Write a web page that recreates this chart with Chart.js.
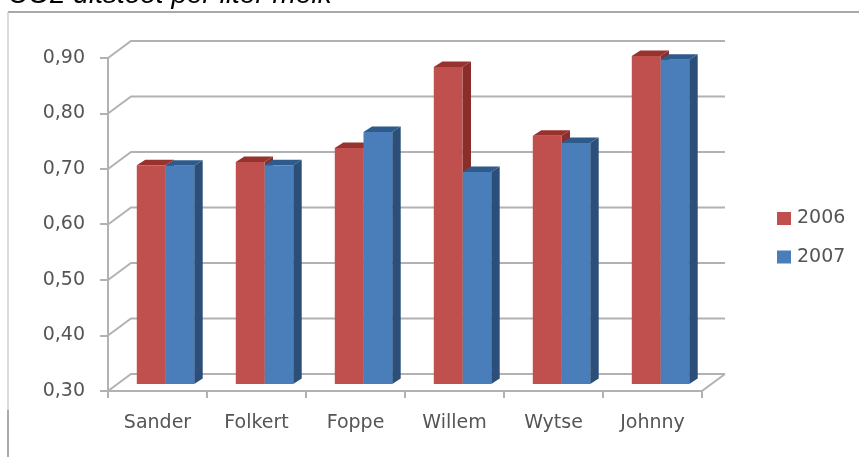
<!DOCTYPE html>
<html>
<head>
<meta charset="utf-8">
<title>CO2 uitstoot per liter melk</title>
<script src="https://cdn.jsdelivr.net/npm/chart.js@4/dist/chart.umd.min.js"></script>
<style>
  html, body { margin: 0; padding: 0; background: #fff; overflow: hidden; }
  #wrap { position: relative; width: 859px; height: 457px; }
</style>
</head>
<body>
<div id="wrap"><canvas id="chart"></canvas></div>
<script>
const heading = 'CO2 uitstoot per liter melk';
const farmers = ['Sander', 'Folkert', 'Foppe', 'Willem', 'Wytse', 'Johnny'];
const values2006 = [0.696, 0.702, 0.727, 0.873, 0.749, 0.893];
const values2007 = [0.695, 0.696, 0.756, 0.684, 0.736, 0.886];
const axisMin = 0.3;
const axisMax = 0.9;
const axisStep = 0.1;

const gridColor = '#b2b2b2';
const textColor = '#555555';
const textFont = '"DejaVu Sans", sans-serif';

// Projection of the pseudo-3D box
const wallShift = { x: 23, y: -17 };   // back wall relative to the axes
const barShift = { x: 8, y: -6 };      // front face of the columns relative to the axes
const barDepth = { x: 8.5, y: -5.5 };  // column depth

const shades = {
  2006: { top: '#98322f', side: '#8a2e2b' },
  2007: { top: '#2f5a8c', side: '#2c4f7a' }
};

function polygon(ctx, pts, fill) {
  ctx.beginPath();
  pts.forEach((p, i) => i ? ctx.lineTo(p[0], p[1]) : ctx.moveTo(p[0], p[1]));
  ctx.closePath();
  ctx.fillStyle = fill;
  ctx.fill();
}

// Frame, title, back wall and floor of the chart box
const chartBox = {
  id: 'chartBox',
  beforeDraw(chart) {
    const { ctx, scales: { x, y } } = chart;
    ctx.save();
    ctx.lineWidth = 1.5;
    ctx.strokeStyle = '#8c8c8c';
    ctx.beginPath();
    ctx.moveTo(8, 12); ctx.lineTo(859, 12);
    ctx.stroke();
    ctx.strokeStyle = '#cfcfcf';
    ctx.beginPath();
    ctx.moveTo(8, 12); ctx.lineTo(8, 410);
    ctx.stroke();
    ctx.strokeStyle = '#8c8c8c';
    ctx.beginPath();
    ctx.moveTo(8, 410); ctx.lineTo(8, 457);
    ctx.stroke();

    ctx.fillStyle = '#000';
    ctx.font = 'italic 28px "Liberation Sans", Arial, sans-serif';
    ctx.textBaseline = 'alphabetic';
    ctx.textAlign = 'left';
    ctx.fillText(heading, 8, 3);

    ctx.strokeStyle = gridColor;
    ctx.lineWidth = 2;
    const left = x.left, right = x.right;
    y.ticks.forEach(t => {
      const py = y.getPixelForValue(t.value);
      ctx.beginPath();
      ctx.moveTo(left, py);
      ctx.lineTo(left + wallShift.x, py + wallShift.y);
      ctx.lineTo(right + wallShift.x, py + wallShift.y);
      ctx.stroke();
    });
    const base = y.getPixelForValue(axisMin);
    ctx.beginPath();
    ctx.moveTo(right, base);
    ctx.lineTo(right + wallShift.x, base + wallShift.y);
    ctx.stroke();
    ctx.restore();
  },
  // Swatches and years beside the plot
  afterDraw(chart) {
    const { ctx } = chart;
    ctx.save();
    ctx.font = '19px ' + textFont;
    ctx.textBaseline = 'middle';
    ctx.textAlign = 'left';
    chart.data.datasets.forEach((ds, i) => {
      const cy = 218.5 + i * 38.5;
      ctx.fillStyle = ds.backgroundColor;
      ctx.fillRect(777, cy - 6.5, 14, 13);
      ctx.fillStyle = textColor;
      ctx.fillText(ds.label, 797, cy);
    });
    ctx.restore();
  }
};

// Adds top and side faces under the fronts, then moves the fronts onto the floor
const columns3d = {
  id: 'columns3d',
  beforeDatasetsDraw(chart) {
    const { ctx } = chart;
    ctx.save();
    ctx.translate(barShift.x, barShift.y);
    chart.data.datasets.forEach((ds, i) => {
      const tone = shades[ds.label];
      chart.getDatasetMeta(i).data.forEach(bar => {
        const { x, y, base, width } = bar.getProps(['x', 'y', 'base', 'width'], true);
        const l = x - width / 2, r = x + width / 2;
        const dx = barDepth.x, dy = barDepth.y;
        polygon(ctx, [[r, y], [r + dx, y + dy], [r + dx, base + dy], [r, base]], tone.side);
        polygon(ctx, [[l, y], [l + dx, y + dy], [r + dx, y + dy], [r, y]], tone.top);
      });
    });
    ctx.restore();
  },
  beforeDatasetDraw(chart) {
    chart.ctx.save();
    chart.ctx.translate(barShift.x, barShift.y);
  },
  afterDatasetDraw(chart) {
    chart.ctx.restore();
  }
};

new Chart(document.getElementById('chart'), {
  type: 'bar',
  data: {
    labels: farmers,
    datasets: [
      { label: '2006', data: values2006, backgroundColor: '#c0504d', base: axisMin, clip: false },
      { label: '2007', data: values2007, backgroundColor: '#4a7ebb', base: axisMin, clip: false }
    ]
  },
  options: {
    responsive: true,
    maintainAspectRatio: false,
    animation: false,
    events: [],
    layout: { padding: { left: 0, right: 157, top: 58, bottom: 0 } },
    datasets: { bar: { barPercentage: 1, categoryPercentage: 0.58 } },
    plugins: { legend: { display: false }, tooltip: { enabled: false }, title: { display: false } },
    scales: {
      x: {
        afterFit(s) { s.height = 66; },
        grid: { offset: true, drawOnChartArea: false, drawTicks: true, tickLength: 7, color: gridColor, lineWidth: 2 },
        border: { color: gridColor, width: 2 },
        ticks: { color: textColor, font: { family: textFont, size: 19 }, padding: 14, maxRotation: 0 }
      },
      y: {
        min: axisMin,
        max: axisMax,
        afterFit(s) { s.width = 108; },
        grid: { drawOnChartArea: false, drawTicks: true, tickLength: 8, color: gridColor, lineWidth: 2 },
        border: { color: gridColor, width: 2 },
        ticks: {
          stepSize: axisStep,
          color: textColor,
          padding: 15,
          font: { family: textFont, size: 19 },
          callback: v => v.toFixed(2).replace('.', ',')
        }
      }
    }
  },
  plugins: [chartBox, columns3d]
});
</script>
</body>
</html>
